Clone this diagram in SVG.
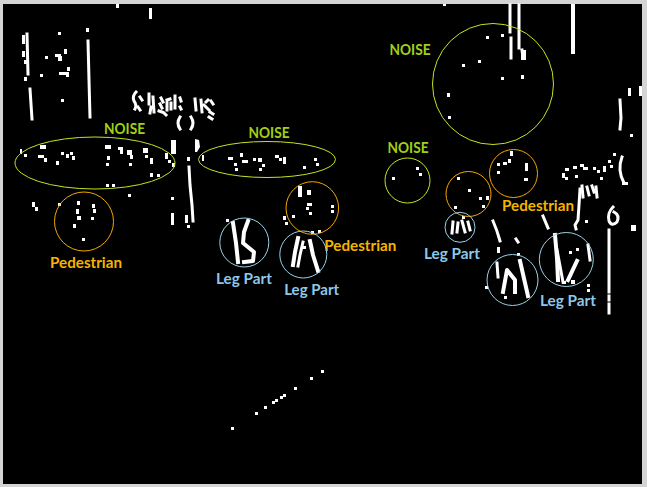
<svg xmlns="http://www.w3.org/2000/svg" width="647" height="487" viewBox="0 0 647 487">
<style>
.w{fill:#fff}
.s{fill:none;stroke:#fff;stroke-width:3;stroke-linecap:square;stroke-linejoin:round}
.t{fill:none;stroke:#fff;stroke-width:4;stroke-linecap:square;stroke-linejoin:round}
.noise{fill:none;stroke:#c4e224;stroke-width:1}
.ped{fill:none;stroke:#f2a800;stroke-width:1}
.leg{fill:none;stroke:#9ad4e6;stroke-width:1}
text{font-family:Lato,"Liberation Sans",Arial,sans-serif;font-weight:bold;font-size:15px;text-anchor:middle}
.tn{fill:#a2d016}
.tp{fill:#f5b400}
.tl{fill:#8ec8ea}
</style>
<rect x="0" y="0" width="647" height="487" fill="#d4d4d4"/>
<rect x="3" y="4" width="639" height="480" fill="#000"/>

<g id="specks">
<!-- top-left -->
<rect class="w" x="116" y="4" width="3" height="4"/>
<rect class="w" x="149" y="8" width="3" height="11"/>
<rect class="w" x="22" y="35" width="3" height="9"/>
<rect class="w" x="22" y="51" width="3" height="6"/>
<rect class="w" x="24" y="60" width="3" height="4"/>
<path class="s" d="M27 34 L28 74 M30 89 L32 119"/>
<rect class="w" x="24" y="77" width="3" height="4"/>
<rect class="w" x="45" y="56" width="3" height="3"/>
<rect class="w" x="55" y="54" width="6" height="3"/>
<rect class="w" x="58" y="56" width="4" height="5"/>
<rect class="w" x="64" y="49" width="3" height="5"/>
<rect class="w" x="59" y="72" width="10" height="3"/>
<rect class="w" x="67" y="67" width="3" height="4"/>
<rect class="w" x="66" y="74" width="3" height="3"/>
<rect class="w" x="40" y="74" width="3" height="3"/>
<rect class="w" x="58" y="32" width="3" height="3"/>
<rect class="w" x="61" y="99" width="3" height="3"/>
<rect class="w" x="86" y="28" width="3" height="4"/>
<path class="s" d="M88 41 L89 80 L90 117"/>
<!-- sign clump -->
<path class="s" d="M136 92 Q132 96 134 101 Q137 105 135 109 M140 97 L142 100 M138 107 L140 110"/>
<path class="s" d="M149 94 L149 104 M153 97 L154 112 M151 107 L150 113"/>
<path class="s" d="M161 98 L163 102 M160 104 L162 108 M159 111 L162 112 M167 100 L170 99 M167 103 L167 110 M171 103 L171 109 M175 96 L175 108 M180 98 L181 101 M180 107 L181 109 M164 113 L166 115"/>
<path class="s" d="M195 99 L196 110 M201 100 L202 112 M204 105 L209 110 M206 102 L208 100 M210 112 L213 114 M211 101 L213 104 M209 117 L212 119"/>
<path class="s" d="M180 117 Q176 123 180 129 M191 117 Q195 123 191 129"/>
<!-- vertical pole -->
<rect class="w" x="171" y="140" width="5" height="14"/>
<path class="w" d="M195 139 L199 140 L200 147 L197 152 L195 152 Z"/>
<rect class="w" x="187" y="157" width="3" height="4"/>
<path class="s" d="M189 167 L190 185 L192 205 L193 221"/>
<rect class="w" x="171" y="197" width="3" height="3"/>
<rect class="w" x="171" y="213" width="3" height="12"/>
<rect class="w" x="185" y="215" width="3" height="8"/>
<rect class="w" x="187" y="225" width="3" height="3"/>
<!-- left ellipse specks -->
<rect class="w" x="20" y="149" width="2" height="5"/>
<rect class="w" x="24" y="154" width="3" height="3"/>
<rect class="w" x="40" y="145" width="6" height="4"/>
<rect class="w" x="38" y="155" width="6" height="3"/>
<rect class="w" x="44" y="158" width="3" height="4"/>
<rect class="w" x="56" y="161" width="3" height="4"/>
<rect class="w" x="61" y="152" width="3" height="3"/>
<rect class="w" x="66" y="154" width="3" height="4"/>
<rect class="w" x="70" y="152" width="3" height="3"/>
<rect class="w" x="72" y="156" width="3" height="4"/>
<rect class="w" x="105" y="145" width="6" height="4"/>
<rect class="w" x="107" y="156" width="3" height="4"/>
<rect class="w" x="106" y="163" width="3" height="3"/>
<rect class="w" x="118" y="147" width="5" height="3"/>
<rect class="w" x="120" y="150" width="3" height="4"/>
<rect class="w" x="127" y="150" width="5" height="5"/>
<rect class="w" x="130" y="155" width="3" height="4"/>
<rect class="w" x="129" y="163" width="3" height="3"/>
<rect class="w" x="143" y="148" width="5" height="5"/>
<rect class="w" x="145" y="155" width="3" height="3"/>
<rect class="w" x="150" y="158" width="3" height="6"/>
<rect class="w" x="150" y="173" width="3" height="4"/>
<rect class="w" x="157" y="174" width="3" height="3"/>
<rect class="w" x="165" y="153" width="3" height="6"/>
<rect class="w" x="168" y="160" width="3" height="3"/>
<rect class="w" x="172" y="163" width="3" height="4"/>
<rect class="w" x="106" y="184" width="3" height="3"/>
<rect class="w" x="112" y="184" width="3" height="3"/>
<rect class="w" x="128" y="194" width="3" height="3"/>
<!-- left pedestrian specks -->
<rect class="w" x="32" y="202" width="3" height="5"/>
<rect class="w" x="35" y="207" width="3" height="4"/>
<rect class="w" x="58" y="203" width="3" height="3"/>
<rect class="w" x="77" y="201" width="3" height="4"/>
<rect class="w" x="76" y="209" width="3" height="5"/>
<rect class="w" x="92" y="204" width="3" height="4"/>
<rect class="w" x="93" y="209" width="3" height="4"/>
<rect class="w" x="77" y="216" width="4" height="4"/>
<rect class="w" x="91" y="217" width="3" height="3"/>
<rect class="w" x="73" y="224" width="3" height="4"/>
<rect class="w" x="82" y="238" width="3" height="3"/>
<!-- middle ellipse specks -->
<rect class="w" x="202" y="155" width="2" height="6"/>
<rect class="w" x="228" y="157" width="5" height="3"/>
<rect class="w" x="234" y="163" width="3" height="3"/>
<rect class="w" x="240" y="153" width="3" height="4"/>
<rect class="w" x="242" y="160" width="6" height="3"/>
<rect class="w" x="235" y="168" width="3" height="3"/>
<rect class="w" x="253" y="158" width="3" height="3"/>
<rect class="w" x="258" y="158" width="4" height="4"/>
<rect class="w" x="262" y="164" width="3" height="3"/>
<rect class="w" x="259" y="168" width="3" height="3"/>
<rect class="w" x="275" y="155" width="4" height="3"/>
<rect class="w" x="279" y="158" width="3" height="3"/>
<rect class="w" x="283" y="157" width="3" height="7"/>
<rect class="w" x="303" y="166" width="3" height="3"/>
<rect class="w" x="314" y="158" width="3" height="3"/>
<rect class="w" x="316" y="163" width="3" height="3"/>
<!-- middle pedestrian specks -->
<rect class="w" x="298" y="186" width="4" height="11"/>
<rect class="w" x="307" y="190" width="4" height="5"/>
<rect class="w" x="307" y="203" width="5" height="3"/>
<rect class="w" x="306" y="207" width="3" height="3"/>
<rect class="w" x="309" y="212" width="3" height="3"/>
<rect class="w" x="292" y="215" width="3" height="3"/>
<rect class="w" x="331" y="205" width="3" height="3"/>
<rect class="w" x="331" y="210" width="3" height="3"/>
<rect class="w" x="283" y="216" width="3" height="4"/>
<rect class="w" x="285" y="222" width="3" height="3"/>
<rect class="w" x="318" y="230" width="3" height="3"/>
<!-- leg part 1 -->
<rect class="w" x="226" y="219" width="3" height="3"/>
<path class="t" d="M233 223 L236 243 L238 262"/>
<path class="t" d="M248 221 L244 232 L243 243 L254 252 L253 261 L244 262"/>
<!-- leg part 2 -->
<path class="t" d="M298 238 L295 252 L293 265"/>
<path class="s" d="M303 242 L300 255 L298 266"/>
<path class="t" d="M310 241 L313 255 L318 271"/>
<rect class="w" x="303" y="246" width="3" height="3"/>
<rect class="w" x="311" y="231" width="3" height="3"/>
<!-- right top -->
<rect class="w" x="443" y="4" width="3" height="2"/>
<path class="s" d="M510 5 L510 32 M511 38 L511 58"/>
<path class="s" d="M519 5 L519 48 M522 50 L523 58"/>
<rect class="w" x="521" y="50" width="5" height="10"/>
<rect class="w" x="571" y="4" width="4" height="50"/>
<rect class="w" x="486" y="36" width="3" height="3"/>
<rect class="w" x="501" y="34" width="3" height="3"/>
<rect class="w" x="462" y="64" width="3" height="3"/>
<rect class="w" x="478" y="60" width="3" height="3"/>
<rect class="w" x="501" y="77" width="3" height="3"/>
<rect class="w" x="521" y="75" width="3" height="4"/>
<rect class="w" x="447" y="93" width="3" height="4"/>
<rect class="w" x="448" y="116" width="3" height="3"/>
<rect class="w" x="628" y="88" width="3" height="8"/>
<rect class="w" x="639" y="86" width="3" height="10"/>
<path class="s" d="M620 100 L621 118 L620 129"/>
<rect class="w" x="630" y="134" width="3" height="3"/>
<!-- small noise circle -->
<rect class="w" x="392" y="177" width="3" height="3"/>
<rect class="w" x="416" y="167" width="3" height="3"/>
<rect class="w" x="419" y="173" width="3" height="3"/>
<!-- pedestrian 4 -->
<rect class="w" x="510" y="151" width="3" height="5"/>
<rect class="w" x="497" y="163" width="3" height="3"/>
<rect class="w" x="503" y="162" width="4" height="3"/>
<rect class="w" x="508" y="159" width="3" height="4"/>
<rect class="w" x="525" y="163" width="3" height="8"/>
<rect class="w" x="497" y="171" width="3" height="3"/>
<rect class="w" x="524" y="178" width="4" height="3"/>
<!-- pedestrian 3 -->
<rect class="w" x="457" y="177" width="3" height="3"/>
<rect class="w" x="468" y="189" width="3" height="3"/>
<rect class="w" x="479" y="197" width="3" height="3"/>
<rect class="w" x="486" y="196" width="3" height="4"/>
<rect class="w" x="482" y="205" width="3" height="3"/>
<rect class="w" x="454" y="206" width="3" height="3"/>
<!-- right cluster -->
<rect class="w" x="562" y="173" width="3" height="5"/>
<rect class="w" x="565" y="168" width="4" height="3"/>
<rect class="w" x="565" y="177" width="3" height="3"/>
<rect class="w" x="573" y="166" width="4" height="3"/>
<rect class="w" x="575" y="175" width="3" height="3"/>
<rect class="w" x="580" y="164" width="4" height="3"/>
<rect class="w" x="583" y="167" width="5" height="3"/>
<rect class="w" x="593" y="167" width="3" height="3"/>
<rect class="w" x="597" y="170" width="3" height="3"/>
<rect class="w" x="600" y="177" width="3" height="3"/>
<rect class="w" x="603" y="166" width="3" height="6"/>
<rect class="w" x="608" y="160" width="3" height="3"/>
<rect class="w" x="610" y="165" width="3" height="3"/>
<rect class="w" x="613" y="153" width="3" height="3"/>
<path class="s" d="M622 157 Q617 170 624 183"/>
<rect class="w" x="625" y="182" width="3" height="3"/>
<path class="s" d="M580 189 L579 205 L578 220 L575 225 L576 229"/>
<path class="s" d="M582 186 L583 197 M587 187 L589 195 M592 186 L594 192 M596 187 L597 197"/>
<rect class="w" x="585" y="220" width="3" height="3"/>
<path class="s" d="M613 207 Q607 213 609 221 Q612 227 617 222 Q620 215 614 212"/>
<path class="s" d="M609 230 L609 292"/>
<path class="s" d="M609 296 L609 300 M609 304 L609 308 M609 311 L609 313"/>
<rect class="w" x="631" y="225" width="5" height="6"/>
<rect class="w" x="622" y="182" width="3" height="3"/>
<!-- small leg -->
<path class="s" d="M453 222 L452 233 M458 223 L457 232 M462 221 L465 232 M468 222 L470 230"/>
<rect class="w" x="462" y="216" width="3" height="3"/>
<!-- lower middle-right leg -->
<path class="s" d="M493 221 Q497 230 500 241"/>
<path class="s" d="M516 239 L518 242"/>
<rect class="w" x="497" y="247" width="3" height="6"/>
<rect class="w" x="517" y="253" width="3" height="3"/>
<path class="s" d="M497 263 L498 277"/>
<path class="t" d="M503 292 L507 270 L515 280 L515 292"/>
<path class="t" d="M520 261 L528 296"/>
<rect class="w" x="485" y="286" width="3" height="3"/>
<rect class="w" x="504" y="296" width="3" height="3"/>
<path class="s" d="M543 216 L548 228"/>
<!-- right leg -->
<path class="t" d="M555 235 L557 258 L558 280"/>
<path class="s" d="M557 250 L563 282"/>
<path class="t" d="M577 261 L568 280"/>
<path class="s" d="M588 245 L590 260"/>
<rect class="w" x="569" y="251" width="3" height="3"/>
<rect class="w" x="576" y="248" width="3" height="3"/>
<rect class="w" x="562" y="281" width="4" height="3"/>
<rect class="w" x="571" y="280" width="4" height="4"/>
<rect class="w" x="587" y="284" width="3" height="3"/>
<rect class="w" x="587" y="289" width="3" height="3"/>
<!-- bottom dotted line -->
<rect class="w" x="231" y="427" width="3" height="3"/>
<rect class="w" x="255" y="412" width="3" height="3"/>
<rect class="w" x="264" y="406" width="3" height="3"/>
<rect class="w" x="272" y="401" width="3" height="3"/>
<rect class="w" x="275" y="399" width="3" height="3"/>
<rect class="w" x="280" y="396" width="3" height="3"/>
<rect class="w" x="283" y="394" width="3" height="3"/>
<rect class="w" x="294" y="387" width="3" height="3"/>
<rect class="w" x="310" y="377" width="3" height="3"/>
<rect class="w" x="321" y="370" width="3" height="3"/>
</g>

<g id="noise-left"><ellipse class="noise" cx="95" cy="163" rx="80" ry="26"/><text class="tn" x="124.5" y="134" textLength="41" lengthAdjust="spacingAndGlyphs">NOISE</text></g>
<g id="noise-middle"><ellipse class="noise" cx="267" cy="159.5" rx="68.5" ry="18"/><text class="tn" x="269" y="137.5" textLength="41" lengthAdjust="spacingAndGlyphs">NOISE</text></g>
<g id="noise-big"><circle class="noise" cx="493" cy="84" r="60.5"/><text class="tn" x="410" y="55" textLength="41" lengthAdjust="spacingAndGlyphs">NOISE</text></g>
<g id="noise-small"><circle class="noise" cx="407.5" cy="180.5" r="22.5"/><text class="tn" x="408" y="153" textLength="41" lengthAdjust="spacingAndGlyphs">NOISE</text></g>

<g id="ped-left"><circle class="ped" cx="84" cy="221.5" r="29.5"/><text class="tp" x="86" y="267.5" textLength="72" lengthAdjust="spacingAndGlyphs">Pedestrian</text></g>
<g id="ped-middle"><circle class="ped" cx="312.3" cy="208" r="26.3"/><text class="tp" x="360.3" y="251" textLength="72" lengthAdjust="spacingAndGlyphs">Pedestrian</text></g>
<g id="ped-right-a"><circle class="ped" cx="468.5" cy="194" r="22.5"/></g>
<g id="ped-right-b"><circle class="ped" cx="513.5" cy="173.5" r="24"/><text class="tp" x="538" y="211" textLength="72" lengthAdjust="spacingAndGlyphs">Pedestrian</text></g>

<g id="leg-1"><circle class="leg" cx="244.3" cy="242.5" r="24.5"/><text class="tl" x="244" y="283.8" textLength="56" lengthAdjust="spacingAndGlyphs">Leg Part</text></g>
<g id="leg-2"><circle class="leg" cx="303.3" cy="254.5" r="23.5"/><text class="tl" x="311.7" y="294.8" textLength="55" lengthAdjust="spacingAndGlyphs">Leg Part</text></g>
<g id="leg-3"><circle class="leg" cx="460" cy="227.3" r="15"/><text class="tl" x="452" y="258.8" textLength="56" lengthAdjust="spacingAndGlyphs">Leg Part</text></g>
<g id="leg-4"><circle class="leg" cx="512.5" cy="280" r="25.5"/></g>
<g id="leg-5"><circle class="leg" cx="566.3" cy="259.5" r="27"/><text class="tl" x="568" y="305.8" textLength="56" lengthAdjust="spacingAndGlyphs">Leg Part</text></g>
<g id="connectors"/>
</svg>
